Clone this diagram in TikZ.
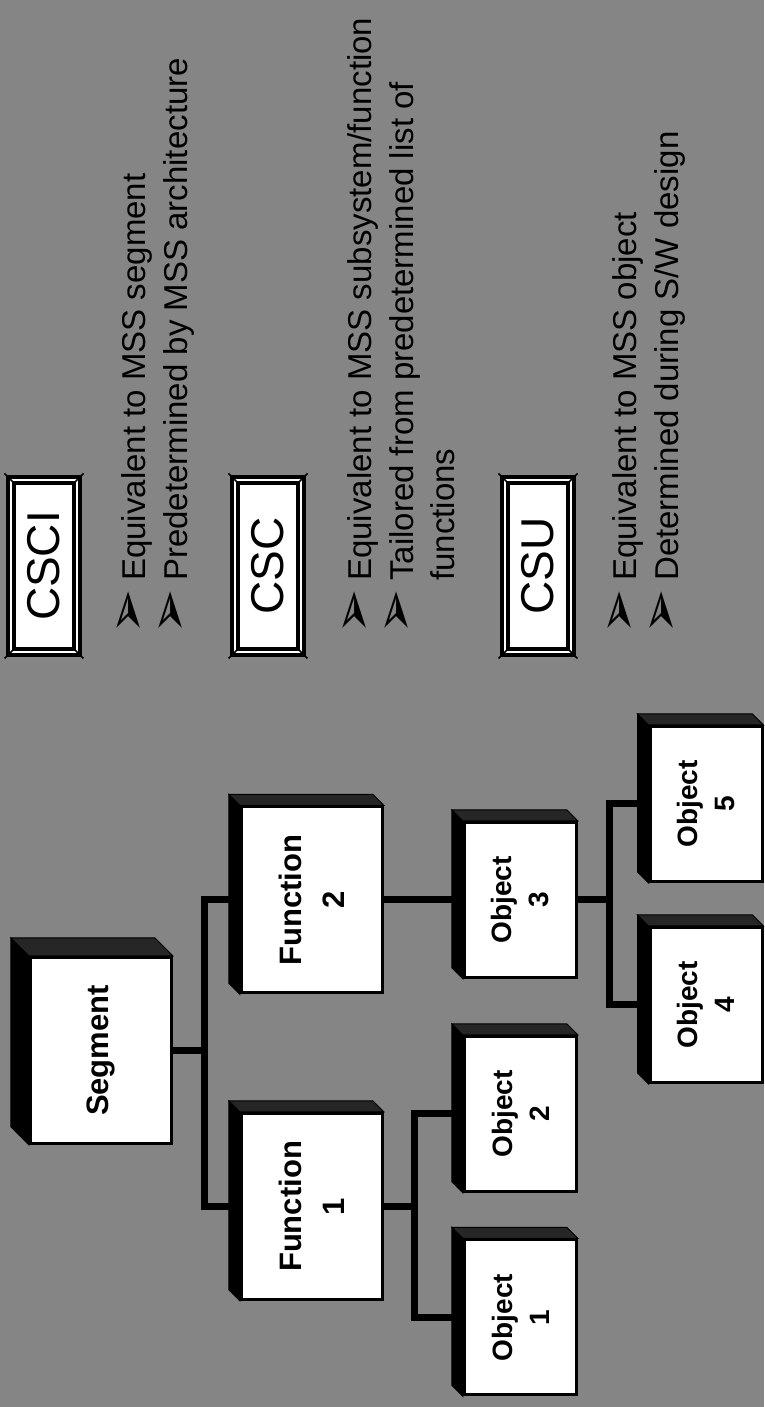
\documentclass[tikz,border=0pt]{standalone}
\usepackage{fontspec}
\setmainfont{Liberation Sans}
\newfontfamily\arrowfont{DejaVu Sans}
\usetikzlibrary{positioning}

\newcommand{\bul}{\makebox[54pt][l]{\arrowfont\fontsize{54}{54}\selectfont ➢}}

\begin{document}
\begin{tikzpicture}[x=1pt,y=1pt,rotate=90,transform shape,on grid,
    box/.style={draw,fill=white,line width=3pt,minimum width=186pt,minimum height=141pt,
      inner sep=0pt,align=center,font=\bfseries\fontsize{31}{43}\selectfont},
    obj/.style={box,minimum width=155pt,minimum height=112pt,font=\bfseries\fontsize{28}{37}\selectfont},
    tag/.style={draw,fill=white,line width=3.5pt,double=white,double distance=2.5pt,
      minimum width=172pt,minimum height=66pt,inner sep=0pt,font=\fontsize{46}{46}\selectfont},
    note/.style={anchor=north west,inner sep=0pt,font=\fontsize{33}{41}\selectfont},
    wire/.style={line width=7pt}]
   \useasboundingbox (0,0) rectangle (1407,764);
   \fill[black!48] (0,0) rectangle (1407,764);

   % tree
   \node[box] (seg)  at (356.5,663) {Segment};
   \node[box] (f_1) [below left=211pt and 156pt of seg] {Function\\1};
   \node[box] (f_2) [right=306.5pt of f_1] {Function\\2};
   \node[obj] (o_3) [below=208.5pt of f_2] {Object\\3};
   \node[obj] (o_2) [left=214pt of o_3] {Object\\2};
   \node[obj] (o_1) [left=203.5pt of o_2] {Object\\1};
   \node[obj] (o_4) [below left=185.5pt and 105pt of o_3] {Object\\4};
   \node[obj] (o_5) [right=201pt of o_4] {Object\\5};

   \coordinate (j_1) at ([yshift=-32pt]seg.south);
   \coordinate (j_2) at ([yshift=-31pt]f_1.south);
   \coordinate (j_3) at ([yshift=-32pt]o_3.south);
   \draw[wire] (seg.south) -- (j_1);
   \draw[wire] (f_1.north) |- (j_1) -| (f_2.north);
   \draw[wire] (f_1.south) -- (j_2);
   \draw[wire] (o_1.north) |- (j_2) -| (o_2.north);
   \draw[wire] (f_2.south) -- (o_3.north);
   \draw[wire] (o_3.south) -- (j_3);
   \draw[wire] (o_4.north) |- (j_3) -| (o_5.north);

   % 3d sides
   \foreach \n/\d in {seg/18,f_1/11,f_2/11,o_1/11,o_2/11,o_3/11,o_4/11,o_5/11} {
     \filldraw[line width=1pt] (\n.north west) -- ++(\d,\d) -- ([shift={(\d,\d)}]\n.north east) -- (\n.north east) -- cycle;
     \filldraw[fill=black!85,line width=1pt] (\n.north east) -- ++(\d,\d) -- ([shift={(\d,\d)}]\n.south east) -- (\n.south east) -- cycle;
   }

   % legend
   \node[tag] (csci) at (841,720) {CSCI};
   \node[tag] (csc) [below=224pt of csci] {CSC};
   \node[tag] (csu) [below=270pt of csc] {CSU};
   \foreach \n in {csci,csc,csu}
     \foreach \corner/\dx/\dy in {north west/-1/1,north east/1/1,south east/1/-1,south west/-1/-1}
       \draw[line width=1.5pt] ([shift={(\dx*4.75,\dy*4.75)}]\n.\corner) -- ([shift={(-\dx*4.75,-\dy*4.75)}]\n.\corner);

   \node[note] (n_1) at (772,647) {\begin{tabular}{@{}l@{}l@{}}
     \bul & Equivalent to MSS segment\\
     \bul & Predetermined by MSS architecture
   \end{tabular}};
   \node[note] (n_2) at (772,421) {\begin{tabular}{@{}l@{}l@{}}
     \bul & Equivalent to MSS subsystem/function\\
     \bul & Tailored from predetermined list of\\
          & functions
   \end{tabular}};
   \node[note] (n_3) at (772,156) {\begin{tabular}{@{}l@{}l@{}}
     \bul & Equivalent to MSS object\\
     \bul & Determined during S/W design
   \end{tabular}};
\end{tikzpicture}
\end{document}
